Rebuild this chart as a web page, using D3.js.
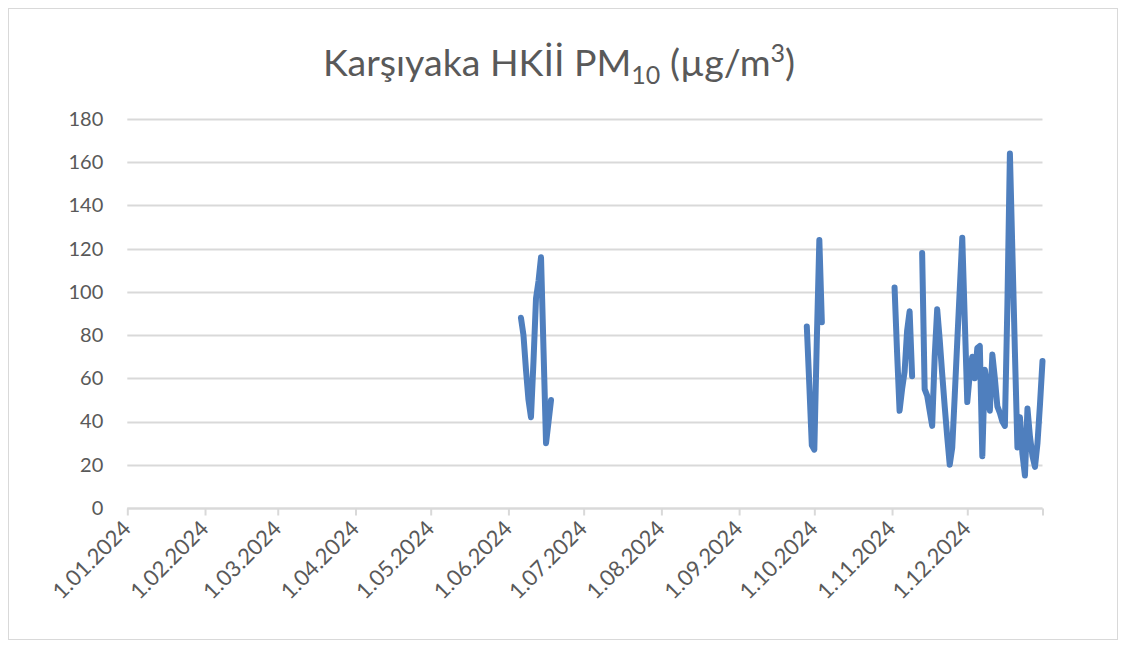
<!DOCTYPE html>
<html>
<head>
<meta charset="utf-8">
<script src="https://cdn.jsdelivr.net/npm/d3@7"></script>
<style>
  html, body { margin: 0; padding: 0; background: #ffffff; }
  svg { display: block; }
</style>
</head>
<body>
<svg id="chart" width="1126" height="669"></svg>
<script>
// ---- data ----
const titleMain = "Karşıyaka HKİİ PM";
const titleSub = "10";
const titleUnit = " (µg/m";
const titleSup = "3";
const titleEnd = ")";

const yTicks = [0, 20, 40, 60, 80, 100, 120, 140, 160, 180];
const xTickDates = ["2024-01-01","2024-02-01","2024-03-01","2024-04-01","2024-05-01","2024-06-01",
                    "2024-07-01","2024-08-01","2024-09-01","2024-10-01","2024-11-01","2024-12-01"];
const xTickLabels = ["1.01.2024","1.02.2024","1.03.2024","1.04.2024","1.05.2024","1.06.2024",
                     "1.07.2024","1.08.2024","1.09.2024","1.10.2024","1.11.2024","1.12.2024"];
const xDomain = ["2024-01-01", "2024-12-31"];

// daily PM10 values (null = no measurement, breaks the line)
const dates = [
  "2024-06-06","2024-06-07","2024-06-08","2024-06-09","2024-06-10","2024-06-11","2024-06-12",
  "2024-06-13","2024-06-14","2024-06-15","2024-06-16","2024-06-17","2024-06-18","2024-06-19",
  "2024-09-28","2024-09-29","2024-09-30","2024-10-01","2024-10-02","2024-10-03","2024-10-04","2024-10-05",
  "2024-11-02","2024-11-03","2024-11-04","2024-11-05","2024-11-06","2024-11-07","2024-11-08","2024-11-09","2024-11-10",
  "2024-11-13","2024-11-14","2024-11-15","2024-11-16","2024-11-17","2024-11-18","2024-11-19","2024-11-20",
  "2024-11-21","2024-11-22","2024-11-23","2024-11-24","2024-11-25","2024-11-26","2024-11-27","2024-11-28",
  "2024-11-29","2024-11-30",
  "2024-12-01","2024-12-02","2024-12-03","2024-12-04","2024-12-05","2024-12-06","2024-12-07","2024-12-08",
  "2024-12-09","2024-12-10","2024-12-11","2024-12-12","2024-12-13","2024-12-14","2024-12-15","2024-12-16",
  "2024-12-17","2024-12-18","2024-12-19","2024-12-20","2024-12-21","2024-12-22","2024-12-23","2024-12-24",
  "2024-12-25","2024-12-26","2024-12-27","2024-12-28","2024-12-29","2024-12-30","2024-12-31"
];
const pm10 = [
  88, 80, 64, 50, 42, 68, 97,
  105, 116, 73, 30, 40, 50, null,
  84, 57, 29, 27, 78, 124, 86, null,
  102, 72, 45, 55, 63, 82, 91, 61, null,
  118, 55, 52, 45, 38, 70, 92, 78,
  62, 47, 33, 20, 28, 52, 77, 101,
  125, 87,
  49, 62, 70, 60, 74, 75, 24, 64,
  55, 45, 71, 60, 47, 44, 40, 38,
  94, 164, 118, 72, 28, 42, 25, 15,
  46, 33, 24, 19, 30, 48, 68
];

// ---- drawing ----
const plot = { left: 127.3, right: 1042.5, top: 119, bottom: 508 };
const textColor = "#595959";
const gridColor = "#d9d9d9";
const lineColor = "#4f7fbe";
const font = "Lato, 'Open Sans', sans-serif";

const parse = d3.timeParse("%Y-%m-%d");
const data = dates.map((d, i) => ({ date: parse(d), v: pm10[i] }));

const x = d3.scaleTime().domain(xDomain.map(parse)).range([plot.left, plot.right]);
const y = d3.scaleLinear().domain([0, 180]).range([plot.bottom, plot.top]);

const svg = d3.select("#chart");

// outer border
svg.append("rect")
  .attr("x", 8.5).attr("y", 8.5).attr("width", 1109).attr("height", 631)
  .attr("fill", "#fff").attr("stroke", "#d9d9d9").attr("stroke-width", 1);

// title
const title = svg.append("text")
  .attr("x", 559).attr("y", 76)
  .attr("text-anchor", "middle")
  .attr("font-family", font).attr("font-size", 37.5)
  .attr("fill", textColor);
title.append("tspan").text(titleMain);
title.append("tspan").attr("font-size", 25).attr("dy", 8).text(titleSub);
title.append("tspan").attr("dy", -8).text(titleUnit);
title.append("tspan").attr("font-size", 25).attr("dy", -14).text(titleSup);
title.append("tspan").attr("dy", 14).text(titleEnd);

// gridlines
svg.append("g").selectAll("line").data(yTicks).join("line")
  .attr("x1", plot.left).attr("x2", plot.right)
  .attr("y1", d => Math.round(y(d)) + 0.5).attr("y2", d => Math.round(y(d)) + 0.5)
  .attr("stroke", gridColor).attr("stroke-width", 2);

// y axis labels
const yAxis = d3.axisLeft(y).tickValues(yTicks).tickSize(0).tickPadding(0);
const gy = svg.append("g").attr("transform", `translate(${plot.left - 24},0)`).call(yAxis);
gy.select(".domain").remove();
gy.selectAll("text").attr("font-family", font).attr("font-size", 20).attr("fill", textColor);

// x axis
const tickDates = xTickDates.map(parse).concat([parse(xDomain[1])]);
const xAxis = d3.axisBottom(x).tickValues(tickDates).tickSize(7).tickFormat(() => "");
const gx = svg.append("g").attr("transform", `translate(0,${Math.round(plot.bottom) + 0.5})`).call(xAxis);
gx.select(".domain").attr("stroke", gridColor).attr("stroke-width", 2).attr("d", `M${plot.left},0H${plot.right}`);
gx.selectAll(".tick line").attr("stroke", gridColor).attr("stroke-width", 2);

svg.append("g").selectAll("text").data(xTickDates).join("text")
  .attr("transform", (d) => `translate(${x(parse(d)) + 5},${plot.bottom + 22}) rotate(-45)`)
  .attr("text-anchor", "end")
  .attr("font-family", font).attr("font-size", 22)
  .attr("fill", textColor)
  .text((d, i) => xTickLabels[i]);

// line
const line = d3.line()
  .defined(d => d.v !== null)
  .x(d => x(d.date))
  .y(d => y(d.v));

svg.append("path").datum(data)
  .attr("d", line)
  .attr("fill", "none")
  .attr("stroke", lineColor)
  .attr("stroke-width", 6)
  .attr("stroke-linejoin", "round")
  .attr("stroke-linecap", "round");
</script>
</body>
</html>
